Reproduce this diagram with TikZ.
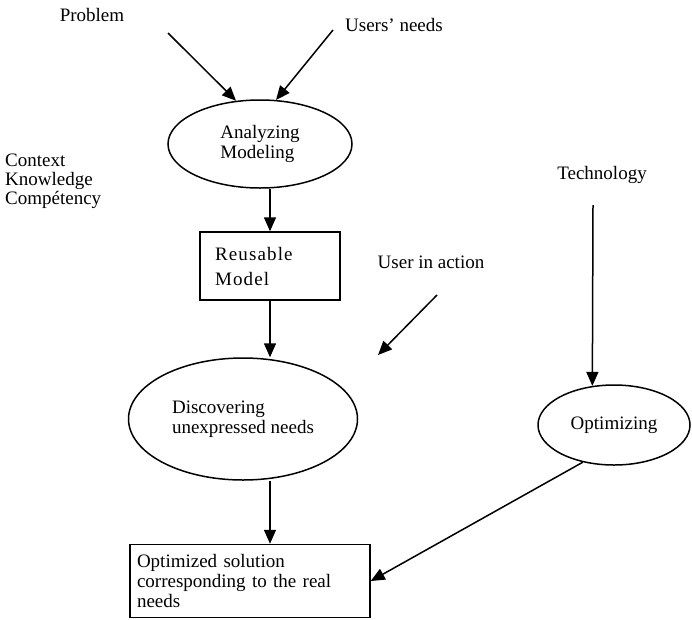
\documentclass[tikz,border=0pt]{standalone}
\usepackage{fontspec}
\setmainfont{Liberation Serif}
\usetikzlibrary{shapes.geometric,arrows.meta}
\begin{document}
\begin{tikzpicture}[x=1pt,y=-1pt,
  font=\fontsize{19}{20}\selectfont,
  ell/.style={draw, ellipse, line width=1.5pt, inner sep=0pt, align=left},
  box/.style={draw, rectangle, line width=1.5pt, align=left},
  txt/.style={inner sep=0pt},
  arr/.style={-{Triangle[length=14pt,width=12pt]}, line width=1.5pt}]
\useasboundingbox (0,0) rectangle (692,619);

% labels
\node[txt] (prob) at (92,15) {Problem};
\node[txt] (usr) at (394,25) {Users' needs};
\node[txt, align=left, anchor=north west, font=\fontsize{19}{19}\selectfont] (ctx) at (5,154) {Context\\Knowledge\\Compétency};
\node[txt] (tech) at (602,175) {Technology};
\node[txt] (uia) at (431,262) {User in action};

% main shapes
\node[ell, minimum width=184pt, minimum height=88pt] (an) at (260,144) {Analyzing\\Modeling};
\node[box, minimum width=140pt, minimum height=68pt, text width=110pt, inner xsep=15pt,
      font=\fontsize{19}{20}\selectfont\addfontfeature{LetterSpace=6}] (reu) at (270,266) {Reusable\\[5pt]Model};
\node[ell, minimum width=229pt, minimum height=122pt] (disc) at (243,419) {Discovering\\unexpressed needs};
\node[ell, minimum width=152pt, minimum height=80pt] (opt) at (614,425) {Optimizing};
\node[box, minimum width=240pt, minimum height=73pt, text width=226pt, inner xsep=7pt] (sol) at (250,581) {Optimized solution\\corresponding to the real\\needs};

% free ends
\coordinate (p0) at (168,33);
\coordinate (u0) at (333,30);
\coordinate (t0) at (593,205);
\coordinate (a0) at (437,295);
\coordinate (a1) at (378,355);

% connectors
\draw[arr] (p0) -- (an.119);
\draw[arr] (u0) -- (an.70);
\draw[arr] (reu.north |- an.south) -- (reu.north);
\draw[arr] (reu.south) -- ([xshift=27pt]disc.north);
\draw[arr] (a0) -- (a1);
\draw[arr] (t0) -- (opt.119);
\draw[arr] ([xshift=27pt]disc.south) -- ([xshift=20pt]sol.north);
\draw[arr] (opt.230) -- (sol.east);
\end{tikzpicture}
\end{document}
